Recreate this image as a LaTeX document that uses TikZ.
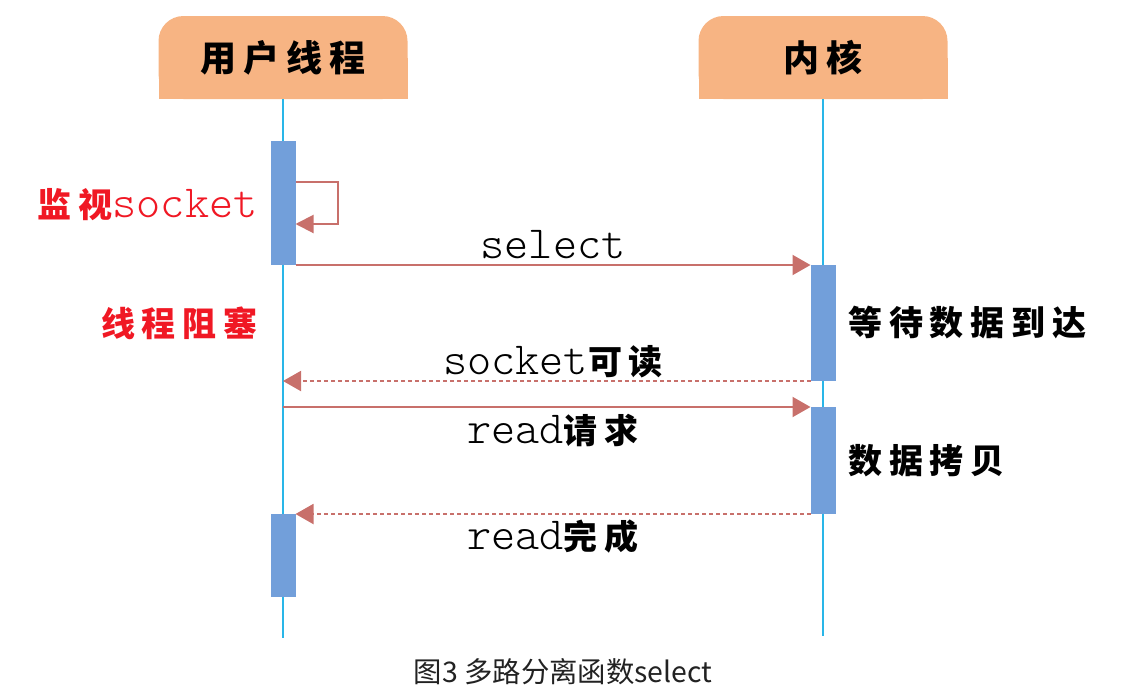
\documentclass[tikz,border=0pt]{standalone}
\usepackage{fontspec}
\setmonofont{lmmonolt10-regular.otf}
\newfontfamily\zh[LetterSpace=20]{Noto Sans CJK SC}
\newfontfamily\zhcap{Noto Sans CJK SC}
\usetikzlibrary{arrows.meta,backgrounds}
\definecolor{hdrfill}{RGB}{247,180,131}
\definecolor{lifeblue}{RGB}{41,182,232}
\definecolor{actblue}{RGB}{114,159,218}
\definecolor{msgred}{RGB}{200,112,107}
\definecolor{txtred}{RGB}{240,24,36}
\definecolor{capgray}{RGB}{34,34,34}
\newcommand\tx[1]{{\ttfamily\fontsize{23}{26}\selectfont #1}}
\newcommand\hz[1]{{\zh\bfseries\fontsize{17}{20}\selectfont #1}}
\begin{document}
\begin{tikzpicture}[x=0.5pt,y=-0.5pt,
	hdr/.style={fill=hdrfill, rounded corners=12.5pt, minimum width=124.5pt, minimum height=41.5pt, inner sep=0pt, outer sep=0pt, font=\zh\bfseries\fontsize{18}{20}\selectfont},
	act/.style={fill=actblue, minimum width=12.5pt, inner sep=0pt, outer sep=0pt},
	life/.style={draw=lifeblue, line width=1pt},
	msg/.style={color=msgred, line width=1pt, -{Triangle[length=9pt,width=10pt]}},
	ret/.style={msg, dash pattern=on 2pt off 1.5pt},
	lbl/.style={inner sep=0pt},
	]
	\useasboundingbox (0,0) rectangle (1128,696);
	\def\ux{283};
	\def\kx{823};
	% headers
	\node[hdr] (user) at (\ux,57.5) {用户线程};
	\node[hdr] (kern) at (\kx,57.5) {内核};
	\begin{scope}[on background layer]
		\fill[hdrfill] (user.west) rectangle (user.south east);
		\fill[hdrfill] (kern.west) rectangle (kern.south east);
	\end{scope}
	% lifelines
	\coordinate (uend) at (\ux,638);
	\coordinate (kend) at (\kx,636);
	\draw[life] (user.south) -- (uend);
	\draw[life] (kern.south) -- (kend);
	% activations
	\node[act, minimum height=62pt] (u1) at (\ux,203) {};
	\node[act, minimum height=58pt] (k1) at (\kx,323) {};
	\node[act, minimum height=53.5pt] (k2) at (\kx,460.5) {};
	\node[act, minimum height=41.5pt] (u2) at (\ux,555.5) {};
	% messages
	\coordinate (l1) at (338,182);
	\coordinate (l2) at (338,224);
	\draw[msg, -{Triangle[length=9pt,width=9pt]}] (u1.east |- l1) -- (l1) |- (u1.east |- l2);
	\draw[msg] (u1.south east) -- (k1.north west);
	\draw[ret] (k1.south west) -- (k1.south west -| uend);
	\draw[msg] (k2.north west -| uend) -- (k2.north west);
	\draw[ret] (k2.south west) -- (u2.north east);
	% labels
	\node[lbl] (m1) at (553,245) {\tx{select}};
	\node[lbl] (m2) at (553,362) {\tx{socket}\hz{可读}};
	\node[lbl] (m3) at (553,430) {\tx{read}\hz{请求}};
	\node[lbl] (m4) at (553,537) {\tx{read}\hz{完成}};
	\node[lbl, text=txtred, anchor=east] (n1) at (258,205) {\hz{监视}\tx{socket}};
	\node[lbl, text=txtred, anchor=east] (n2) at (258,323) {\hz{线程阻塞}};
	\node[lbl, anchor=west] (n3) at (848,323) {\hz{等待数据到达}};
	\node[lbl, anchor=west] (n4) at (848,461) {\hz{数据拷贝}};
	\node[font=\zhcap\fontsize{14.2}{17}\selectfont, text=capgray] (cap) at (563,672) {图3 多路分离函数select};
\end{tikzpicture}
\end{document}
